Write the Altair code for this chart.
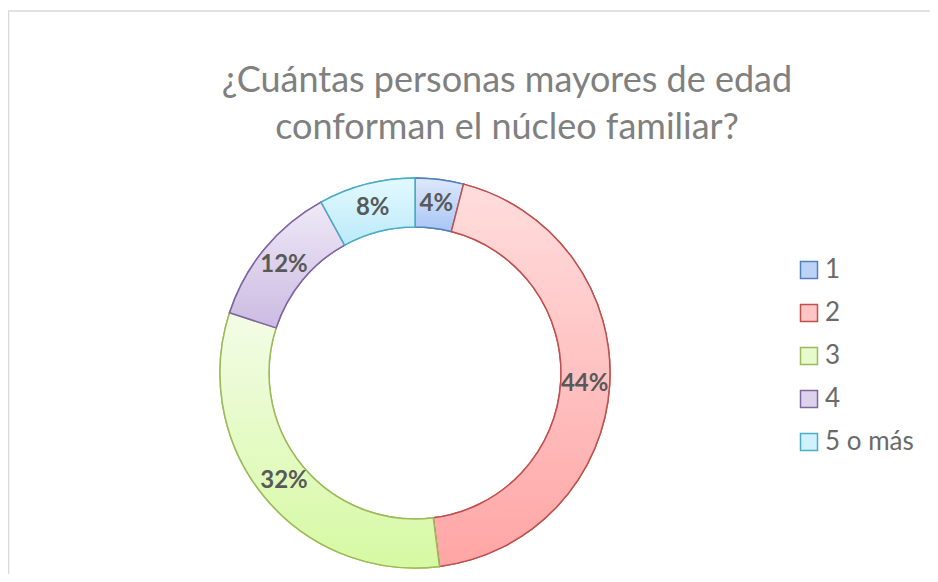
import altair as alt
import pandas as pd

# ---- data ----
categories = ["1", "2", "3", "4", "5 o más"]
values = [4, 44, 32, 12, 8]
labels = ["4%", "44%", "32%", "12%", "8%"]

title_lines = ["¿Cuántas personas mayores de edad", "conforman el núcleo familiar?"]

# ---- styles ----
stroke_colors = ["#4F81BD", "#C0504D", "#9BBB59", "#8064A2", "#4BACC6"]
top_colors = ["#DDE8FC", "#FFDDDD", "#F3FCE7", "#EFE9F7", "#E3F9FF"]
bottom_colors = ["#A9C6F5", "#FFA5A5", "#D6F9A2", "#CBBBE2", "#BBEAF9"]
legend_fills = ["#BCD3F8", "#FFC4C4", "#E6FACB", "#DDD2EC", "#CFF2FC"]

df = pd.DataFrame({"cat": categories, "value": values, "label": labels,
                   "idx": list(range(len(categories)))})


def grad(top, bottom):
    return {"gradient": "linear", "x1": 0, "y1": 0, "x2": 0, "y2": 1,
            "stops": [{"offset": 0, "color": top}, {"offset": 1, "color": bottom}]}


fill_conds = [{"test": f"datum.idx == {i}", "value": grad(top_colors[i], bottom_colors[i])}
              for i in range(len(categories) - 1)]
stroke_conds = [{"test": f"datum.idx == {i}", "value": stroke_colors[i]}
                for i in range(len(categories) - 1)]

theta = alt.Theta("value:Q", stack=True)
order = alt.Order("idx:Q", sort="ascending")

OUTER, INNER = 195, 146

legend = alt.Legend(title=None, orient="none", legendX=576, legendY=79,
                    symbolType="square", symbolSize=289, symbolStrokeWidth=1.5,
                    labelFontSize=26, labelFont="Lato", labelColor="#6A6A6A",
                    rowPadding=17, labelOffset=3, padding=0)

base = alt.Chart(df)

legend_layer = base.mark_arc(outerRadius=OUTER, innerRadius=INNER, strokeWidth=1.5).encode(
    theta=theta, order=order,
    fill=alt.Fill("cat:N", scale=alt.Scale(domain=categories, range=legend_fills), legend=legend),
    stroke=alt.Stroke("cat:N", scale=alt.Scale(domain=categories, range=stroke_colors), legend=legend),
)

grad_layer = base.mark_arc(outerRadius=OUTER, innerRadius=INNER, strokeWidth=1.5).encode(
    theta=theta, order=order,
    fill={"condition": fill_conds, "value": grad(top_colors[-1], bottom_colors[-1])},
    stroke={"condition": stroke_conds, "value": stroke_colors[-1]},
)

text_layer = base.mark_text(radius=170, fontSize=24, fontWeight="bold", font="Lato",
                            color="#595959").encode(
    theta=theta, order=order, text="label:N")

frame = pd.DataFrame({"k": [0]})
frame_top = alt.Chart(frame).mark_rule(color="#D9D9D9", strokeWidth=1.5).encode(
    x=alt.value(-212), x2=alt.value(720), y=alt.value(-167))
frame_left = alt.Chart(frame).mark_rule(color="#D9D9D9", strokeWidth=1.5).encode(
    x=alt.value(-211.5), y=alt.value(-167), y2=alt.value(400))

chart = alt.layer(frame_top, frame_left, legend_layer, grad_layer, text_layer).properties(
    width=390, height=390,
    padding={"left": 212, "top": 170, "right": 320, "bottom": 6},
    autosize="none",
    background="white",
    title=alt.TitleParams(text=title_lines, fontSize=36, font="Lato", fontWeight="normal",
                          color="#808080", lineHeight=47, anchor="middle", dx=92, offset=-137),
).configure_view(strokeWidth=0, stroke="transparent")

chart.save("out.html", embed_options={"renderer": "svg", "actions": False})
